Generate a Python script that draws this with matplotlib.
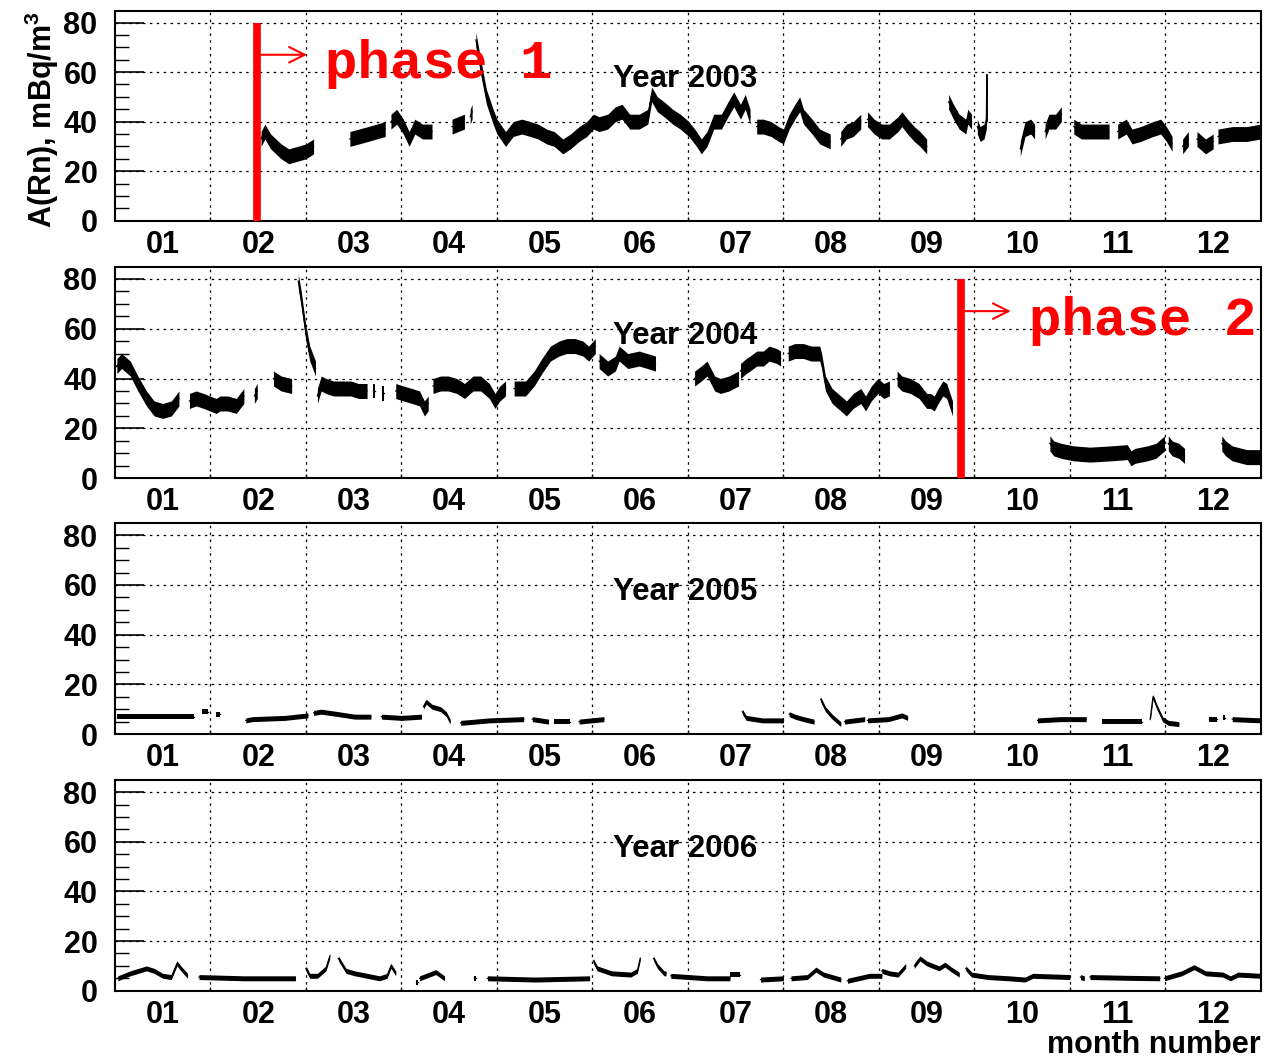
import numpy as np
import matplotlib
matplotlib.use("Agg")
import matplotlib.pyplot as plt

plt.rcParams['font.family'] = ['Liberation Sans', 'DejaVu Sans']
plt.rcParams['font.weight'] = 'bold'
plt.rcParams['mathtext.fontset'] = 'custom'
plt.rcParams['mathtext.rm'] = 'Liberation Sans:bold'
plt.rcParams['mathtext.bf'] = 'Liberation Sans:bold'
plt.rcParams['mathtext.default'] = 'bf'

# data: segments of (month, A(Rn) in mBq/m^3)
years = ['2003', '2004', '2005', '2006']
month_labels = ['01', '02', '03', '04', '05', '06', '07', '08', '09', '10', '11', '12']
spread = [3.0, 3.0, 1.0, 1.0]   # half width of the noise band, per year

seg_2003 = [
    [[2.03, 33], [2.07, 36], [2.13, 32], [2.24, 28], [2.32, 26], [2.41, 27], [2.50, 28], [2.58, 30]],
    [[2.96, 33], [3.15, 35], [3.33, 37]],
    [[3.39, 40], [3.45, 42], [3.52, 38], [3.58, 33], [3.64, 38], [3.72, 36], [3.82, 36]],
    [[4.03, 38], [4.16, 40]],
    [[4.22, 42], [4.24, 44]],
    [[4.28, 73], [4.33, 62], [4.39, 50], [4.46, 42], [4.50, 38], [4.59, 33], [4.67, 37], [4.76, 38],
     [4.85, 37], [4.93, 36], [5.02, 34], [5.10, 33], [5.19, 30], [5.27, 32], [5.36, 35], [5.44, 37],
     [5.51, 40], [5.57, 39], [5.66, 40], [5.74, 43], [5.81, 44], [5.89, 40], [5.99, 40], [6.08, 42],
     [6.12, 51], [6.18, 47], [6.25, 45], [6.34, 42], [6.42, 40], [6.51, 37], [6.59, 33], [6.64, 30],
     [6.70, 33], [6.77, 40], [6.85, 40], [6.92, 45], [6.98, 49], [7.05, 44], [7.10, 48], [7.15, 42]],
    [[7.22, 38], [7.29, 38], [7.37, 37], [7.45, 35], [7.50, 34], [7.56, 40], [7.62, 44], [7.67, 47],
     [7.71, 42], [7.80, 38], [7.88, 34], [7.99, 32]],
    [[8.10, 33], [8.16, 36], [8.23, 37], [8.31, 40]],
    [[8.38, 41], [8.45, 38], [8.53, 36], [8.61, 36], [8.70, 39], [8.74, 41], [8.80, 38], [8.87, 35],
     [8.93, 33], [9.00, 30]],
    [[9.23, 48], [9.28, 44], [9.34, 40], [9.41, 38], [9.43, 42], [9.47, 40]],
    [[9.53, 38], [9.56, 35], [9.60, 36], [9.625, 40], [9.63, 59], [9.635, 40]],
    [[9.98, 29], [10.03, 37], [10.09, 38], [10.13, 36]],
    [[10.24, 36], [10.28, 40], [10.35, 40], [10.41, 43]],
    [[10.54, 38], [10.62, 36], [10.71, 36], [10.91, 36]],
    [[11.00, 36], [11.09, 38], [11.15, 34], [11.24, 35], [11.37, 37], [11.45, 38], [11.51, 35], [11.57, 31]],
    [[11.68, 30], [11.74, 33]],
    [[11.83, 33], [11.92, 30], [12.00, 32]],
    [[12.05, 34], [12.20, 35], [12.35, 35], [12.50, 36]],
]

seg_2004 = [
    [[0.52, 45], [0.57, 47], [0.66, 44], [0.74, 38], [0.83, 32], [0.91, 28], [1.00, 27], [1.09, 28], [1.17, 32]],
    [[1.28, 31], [1.35, 32], [1.43, 31], [1.56, 29], [1.60, 30], [1.68, 30], [1.77, 29], [1.85, 33]],
    [[1.96, 33], [1.99, 35]],
    [[2.16, 40], [2.24, 38], [2.35, 37]],
    [[2.42, 79], [2.45, 72], [2.50, 58], [2.54, 50], [2.58, 46], [2.60, 44]],
    [[2.62, 33], [2.66, 38], [2.71, 37], [2.79, 36], [2.88, 36], [2.97, 36], [3.05, 35], [3.14, 35]],
    [[3.20, 35], [3.22, 35]],
    [[3.30, 34], [3.32, 34]],
    [[3.44, 35], [3.52, 34], [3.61, 33], [3.69, 32], [3.74, 28], [3.78, 30]],
    [[3.83, 37], [3.91, 38], [3.99, 38], [4.08, 37], [4.16, 35], [4.25, 38], [4.33, 38], [4.42, 35],
     [4.48, 31], [4.53, 34], [4.59, 36]],
    [[4.68, 36], [4.80, 36], [4.89, 40], [4.97, 45], [5.06, 50], [5.15, 52], [5.23, 53], [5.32, 53],
     [5.40, 52], [5.46, 50], [5.53, 53]],
    [[5.57, 47], [5.66, 44], [5.74, 46], [5.78, 50], [5.87, 47], [5.99, 48], [6.16, 46]],
    [[6.57, 40], [6.64, 42], [6.70, 44], [6.78, 38], [6.84, 37], [6.93, 38], [7.03, 40]],
    [[7.05, 43], [7.11, 45], [7.15, 46], [7.22, 48], [7.29, 48], [7.35, 50], [7.43, 49], [7.47, 48]],
    [[7.55, 50], [7.62, 51], [7.71, 51], [7.79, 50], [7.88, 50], [7.90, 47], [7.94, 38], [8.01, 33],
     [8.10, 30], [8.16, 28], [8.23, 31], [8.31, 33], [8.36, 30], [8.42, 34], [8.49, 37], [8.55, 35],
     [8.61, 36]],
    [[8.69, 40], [8.74, 38], [8.83, 37], [8.92, 35], [9.00, 31], [9.04, 31], [9.08, 30], [9.12, 33],
     [9.17, 36], [9.21, 35], [9.27, 28]],
    [[10.29, 14], [10.33, 12], [10.41, 11], [10.54, 10], [10.71, 9.5], [10.93, 10], [11.10, 10.5],
     [11.14, 8], [11.18, 9], [11.31, 10], [11.40, 11], [11.49, 14]],
    [[11.53, 14], [11.57, 12], [11.64, 11], [11.70, 9]],
    [[12.09, 14], [12.13, 12], [12.20, 10], [12.35, 8.5], [12.50, 8.5]],
]

seg_2005 = [
    [[0.52, 7], [0.90, 7], [1.33, 7]],
    [[1.41, 9], [1.47, 9]],
    [[1.56, 8], [1.60, 8]],
    [[1.87, 5.5], [1.94, 6], [2.28, 6.5], [2.52, 7.5]],
    [[2.58, 8.5], [2.66, 9], [2.84, 8], [3.01, 7], [3.18, 7]],
    [[3.29, 7], [3.50, 6.5], [3.71, 7]],
    [[3.73, 11], [3.76, 13], [3.82, 11], [3.91, 10], [3.97, 8], [4.01, 5]],
    [[4.12, 4.5], [4.42, 5.5], [4.78, 6]],
    [[4.87, 6], [5.04, 5]],
    [[5.10, 5], [5.27, 5]],
    [[5.36, 5], [5.62, 6]],
    [[7.07, 9], [7.11, 6.5], [7.28, 5.5], [7.50, 5.5]],
    [[7.56, 8], [7.62, 7], [7.71, 6], [7.82, 5]],
    [[7.89, 14], [7.94, 10], [8.01, 7], [8.10, 4]],
    [[8.14, 5], [8.35, 6]],
    [[8.38, 5.5], [8.60, 6], [8.74, 7.5], [8.80, 6.5]],
    [[10.16, 5.5], [10.40, 6], [10.67, 6]],
    [[10.84, 5], [11.25, 5]],
    [[11.34, 6], [11.37, 15], [11.41, 11], [11.47, 6], [11.53, 4.5], [11.64, 4]],
    [[11.96, 6], [12.04, 6]],
    [[12.10, 6.5], [12.12, 6.5]],
    [[12.20, 6], [12.50, 5.5]],
]

seg_2006 = [
    [[0.53, 5], [0.66, 7], [0.83, 9], [0.91, 8], [1.00, 6], [1.09, 5.5], [1.15, 11], [1.19, 9], [1.26, 6]],
    [[1.38, 5.5], [1.85, 5], [2.39, 5]],
    [[2.50, 9], [2.54, 6], [2.62, 6], [2.71, 9], [2.75, 14]],
    [[2.84, 13], [2.92, 8], [3.01, 7], [3.14, 6], [3.27, 5], [3.35, 6], [3.39, 10], [3.44, 7]],
    [[3.65, 3.5], [3.67, 3.5]],
    [[3.69, 5], [3.86, 7.5], [3.95, 5]],
    [[4.26, 5], [4.28, 5]],
    [[4.40, 5], [4.90, 4.5], [5.47, 5]],
    [[5.51, 12], [5.55, 9], [5.70, 7], [5.90, 6.5], [5.97, 8], [6.00, 13]],
    [[6.14, 13], [6.18, 10], [6.25, 7], [6.27, 7]],
    [[6.32, 6], [6.70, 5], [6.94, 5]],
    [[6.94, 6.5], [7.05, 6.5]],
    [[7.26, 4.5], [7.50, 5]],
    [[7.58, 5], [7.75, 5.5], [7.84, 8.5], [7.92, 6.5], [8.10, 4.5]],
    [[8.17, 4], [8.40, 6], [8.53, 6]],
    [[8.53, 8], [8.61, 7], [8.70, 6.5], [8.78, 10]],
    [[8.87, 10], [8.93, 13], [9.00, 11], [9.13, 9], [9.19, 10.5], [9.26, 8.5], [9.34, 6.5]],
    [[9.41, 9], [9.47, 6.5], [9.64, 5.5], [9.86, 5], [10.03, 4.5], [10.11, 6], [10.50, 5.5]],
    [[10.61, 5.5], [10.65, 5]],
    [[10.71, 5.5], [11.10, 5.2], [11.44, 5]],
    [[11.49, 5], [11.67, 7], [11.80, 9.5], [11.92, 7], [12.10, 6.5], [12.18, 5], [12.26, 6.5], [12.50, 6]],
]

all_segments = [seg_2003, seg_2004, seg_2005, seg_2006]

# phase marks: (panel index, month, text)
phases = [(0, 1.99, 'phase 1'), (1, 9.36, 'phase 2')]

fig = plt.figure(figsize=(12.83, 10.58), dpi=100)
left, width = 0.0896, 0.8932
bottoms = [0.7914, 0.5479, 0.3062, 0.0636]
heights = [0.1985, 0.2000, 0.1991, 0.1990]

grid_style = dict(color='black', linestyle=(0, (2, 3.5)), linewidth=0.9)
axes = []
for i in range(4):
    ax = fig.add_axes([left, bottoms[i], width, heights[i]])
    axes.append(ax)
    for seg in all_segments[i]:
        m = np.array(seg, dtype=float)
        s = spread[i]
        ax.fill_between(m[:, 0], m[:, 1] - s, m[:, 1] + s, color='black', linewidth=0, zorder=3)
        ax.plot(m[:, 0], m[:, 1], color='black', linewidth=0.9, zorder=3)

    ax.set_xlim(0.5, 12.5)
    ax.set_ylim(0, 84.8)
    ax.set_xticks(range(1, 13))
    ax.set_xticklabels(month_labels)
    ax.set_xticks(np.arange(1.5, 12.0, 1.0), minor=True)
    ax.set_yticks([0, 20, 40, 60, 80])
    ax.set_yticks(range(0, 85, 5), minor=True)
    ax.tick_params(axis='x', which='major', length=0, pad=6.5, labelsize=22)
    ax.tick_params(axis='x', which='minor', direction='in', length=3, width=1)
    ax.tick_params(axis='y', which='major', direction='in', length=21, width=1.2, pad=12.5, labelsize=22)
    ax.tick_params(axis='y', which='minor', direction='in', length=10, width=1)
    ax.grid(axis='y', which='major', **grid_style)
    ax.grid(axis='x', which='minor', **grid_style)
    for sp in ax.spines.values():
        sp.set_linewidth(1.5)

    ax.text(5.72, 54, 'Year ' + years[i], fontsize=22.5, fontweight='bold', ha='left', va='baseline', zorder=5)

for idx, mon, label in phases:
    ax = axes[idx]
    ax.plot([mon, mon], [0, 80], color='red', linewidth=5.5, solid_capstyle='butt', zorder=6)
    ax.annotate('', xy=(mon + 0.55, 67), xytext=(mon, 67),
                arrowprops=dict(arrowstyle='->', color='red', lw=1.5, mutation_scale=28), zorder=6)
    ax.text(mon + 0.71, 57.5, label, color='red', fontsize=39, fontweight='bold',
            family='Liberation Mono', ha='left', va='baseline', zorder=6)

fig.text(42 / 1283, 1 - 11 / 1058, r'A(Rn), mBq/m$^{3}$', rotation=90, ha='center', va='top',
         fontsize=22, fontweight='bold')
fig.text(1261 / 1283, 1 - 1053 / 1058, 'month number', ha='right', va='baseline',
         fontsize=22, fontweight='bold')

fig.savefig('out.png', dpi=100)
